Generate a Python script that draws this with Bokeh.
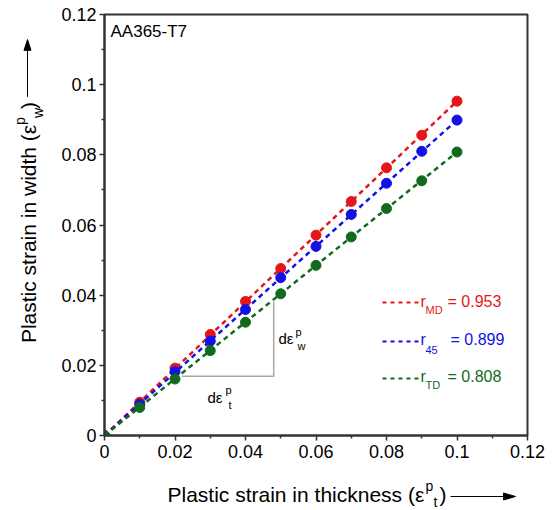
import math
from bokeh.plotting import figure
from bokeh.layouts import column, row
from bokeh.models import FixedTicker, Label, Arrow
from bokeh.embed import file_html
from bokeh.resources import INLINE

# ---------------- data ----------------
thickness_strain = [0.0, 0.01, 0.02, 0.03, 0.04, 0.05, 0.06, 0.07, 0.08, 0.09, 0.10]
width_strain_MD = [0.0, 0.0095, 0.0192, 0.0288, 0.0382, 0.0476, 0.0571, 0.0667, 0.0763, 0.0856, 0.0953]
width_strain_45 = [0.0, 0.0089, 0.0182, 0.0269, 0.0359, 0.0450, 0.0539, 0.0630, 0.0719, 0.0810, 0.0899]
width_strain_TD = [0.0, 0.0080, 0.0161, 0.0242, 0.0323, 0.0404, 0.0485, 0.0566, 0.0647, 0.0726, 0.0808]
series_subs = ["MD", "45", "TD"]
r_values = [0.953, 0.899, 0.808]
colors = ["#e4161b", "#1212e4", "#136a1f"]

tick_values = [0.0, 0.02, 0.04, 0.06, 0.08, 0.10, 0.12]
tick_labels = ["0", "0.02", "0.04", "0.06", "0.08", "0.1", "0.12"]
minor_values = [0.01, 0.03, 0.05, 0.07, 0.09, 0.11]

FONT = "Liberation Sans"
AXC = "#333333"
K = 0.35  # baseline -> box-centre offset (fraction of font size)
TITLE = 21

LEFT_W = 56
MAIN_H = 470
TOTAL_W = 557
TOTAL_H = 510

p = figure(width=TOTAL_W - LEFT_W, height=MAIN_H, x_range=(0, 0.12), y_range=(0, 0.12),
           output_backend="svg", toolbar_location=None,
           min_border_left=48, min_border_right=30, min_border_top=14, min_border_bottom=35,
           background_fill_color="white", border_fill_color="white")
p.grid.visible = False
p.outline_line_color = AXC
p.outline_line_width = 2

for ax, standoff in ((p.xaxis[0], 4), (p.yaxis[0], 3)):
    ax.ticker = FixedTicker(ticks=tick_values, minor_ticks=minor_values)
    ax.major_label_overrides = dict(zip(tick_values, tick_labels))
    ax.axis_line_color = AXC
    ax.axis_line_width = 2
    ax.major_tick_line_color = AXC
    ax.major_tick_line_width = 1.5
    ax.minor_tick_line_color = AXC
    ax.minor_tick_line_width = 1.5
    ax.major_tick_out = 5
    ax.major_tick_in = 0
    ax.minor_tick_out = 3
    ax.minor_tick_in = 0
    ax.major_label_text_font = FONT
    ax.major_label_text_font_size = "18px"
    ax.major_label_text_color = "black"
    ax.major_label_standoff = standoff

# slope triangle (gray)
p.line([0.022, 0.048, 0.048], [0.01686, 0.01686, 0.0382], line_color="#a8a8a8", line_width=1.5)

series = [width_strain_MD, width_strain_45, width_strain_TD]
x_end = thickness_strain[-1]
for ys, r, c in zip(series, r_values, colors):
    p.line([thickness_strain[0], x_end], [r * thickness_strain[0], r * x_end],
           line_color=c, line_width=2.5, line_dash="5 4")
    p.scatter(thickness_strain, ys, size=10, fill_color=c, line_color=c, marker="circle")


def lab(fig, x, y_base, text, size, color="black", units="screen"):
    """Horizontal text; y_base is the desired baseline (y up)."""
    fig.add_layout(Label(x=x, y=y_base + K * size, x_units=units, y_units=units, text=text,
                         text_font=FONT, text_font_size=f"{size}px", text_color=color,
                         text_align="left", text_baseline="middle"))


def vlab(fig, x_center, y_center, text, size):
    """Vertical (rotated 90 deg) text placed by its centre."""
    fig.add_layout(Label(x=x_center, y=y_center, x_units="data", y_units="data", text=text,
                         text_font=FONT, text_font_size=f"{size}px", text_color="black",
                         angle=math.pi / 2, text_align="center", text_baseline="middle"))


# sample label
lab(p, 6, 398, "AA365-T7", 17)

# d-epsilon annotations
lab(p, 103, 33, "d\u03b5", 15)
lab(p, 121, 42, "p", 11)
lab(p, 124, 27, "t", 11)
lab(p, 174, 92, "d\u03b5", 15)
lab(p, 191, 100, "p", 11)
lab(p, 193, 86, "w", 11)

# manual legend
leg_line_y = [133, 94, 57]
leg_text_y = [128, 90, 53]
leg_sub_y = [122, 82, 47]
leg_eq_x = [343, 346, 343]
for c, sub, r, ly, ty, sy, ex in zip(colors, series_subs, r_values, leg_line_y, leg_text_y, leg_sub_y, leg_eq_x):
    p.add_layout(Arrow(x_start=278, y_start=ly, x_end=315, y_end=ly,
                       start_units="screen", end_units="screen", start=None, end=None,
                       line_color=c, line_width=2, line_dash="4 4"))
    lab(p, 316, ty, "r", 16, color=c)
    lab(p, 321, sy, sub, 11, color=c)
    lab(p, ex, ty, f"= {r:.3f}", 16, color=c)


def strip(w, h):
    f = figure(width=w, height=h, x_range=(0, w), y_range=(0, h),
               x_axis_type=None, y_axis_type=None, min_border=0,
               output_backend="svg", toolbar_location=None,
               background_fill_color="white", border_fill_color="white")
    f.outline_line_color = None
    f.grid.visible = False
    return f


# ---- left strip: y axis title (rotated) + arrow ----
left = strip(LEFT_W, MAIN_H)
vlab(left, 35 - K * TITLE, 225, "Plastic strain in width (\u03b5", TITLE)
vlab(left, 24 - K * 14, 351, "p", 14)
vlab(left, 42 - K * 14, 360, "w", 14)
vlab(left, 35 - K * TITLE, 368.5, ")", TITLE)
left.line([27, 27], [378, 432], line_color="black", line_width=1)
left.patch([27, 23.5, 30.5], [442, 430, 430], fill_color="black", line_color="black", line_width=1)

# ---- bottom strip: x axis title + arrow ----
bottom = strip(TOTAL_W, TOTAL_H - MAIN_H)
lab(bottom, 167, 9, "Plastic strain in thickness (\u03b5", TITLE, units="data")
lab(bottom, 425, 20, "p", 14, units="data")
lab(bottom, 433, 4, "t", 14, units="data")
lab(bottom, 439, 9, ")", TITLE, units="data")
bottom.line([450, 505], [14, 14], line_color="black", line_width=1)
bottom.patch([515, 503, 503], [14, 10.5, 17.5], fill_color="black", line_color="black", line_width=1)

layout = column(row(left, p), bottom)
open("out.html", "w").write(file_html(layout, INLINE))
